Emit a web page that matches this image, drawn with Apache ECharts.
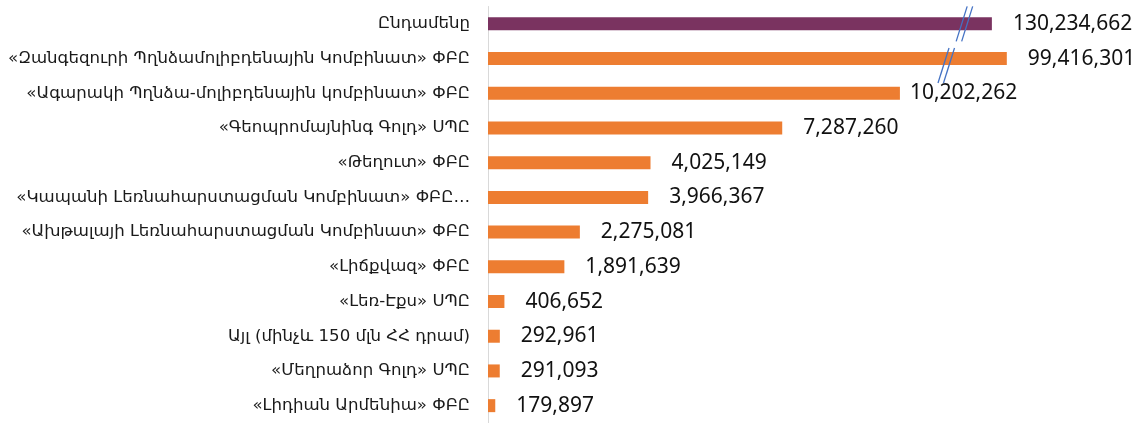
<!DOCTYPE html>
<html>
<head>
	<meta charset="utf-8">
	<title>chart</title>
	<script src="https://cdn.jsdelivr.net/npm/echarts@6/dist/echarts.min.js"></script>
	<style>
		html,body{margin:0;padding:0;background:#fff;}
		#main{width:1143px;height:423px;}
	</style>
</head>
<body>
	<div id="main"></div>
<script type="text/javascript">
	// categories, top to bottom
	var categories = [
		'Ընդամենը',
		'«Զանգեզուրի Պղնձամոլիբդենային Կոմբինատ» ՓԲԸ',
		'«Ագարակի Պղնձա-մոլիբդենային կոմբինատ» ՓԲԸ',
		'«Գեոպրոմայնինգ Գոլդ» ՍՊԸ',
		'«Թեղուտ» ՓԲԸ',
		'«Կապանի Լեռնահարստացման Կոմբինատ» ՓԲԸ…',
		'«Ախթալայի Լեռնահարստացման Կոմբինատ» ՓԲԸ',
		'«Լիճքվազ» ՓԲԸ',
		'«Լեռ-Էքս» ՍՊԸ',
		'Այլ (մինչև 150 մլն ՀՀ դրամ)',
		'«Մեղրաձոր Գոլդ» ՍՊԸ',
		'«Լիդիան Արմենիա» ՓԲԸ'
	];
	// real values (shown in labels)
	var values = [130234662, 99416301, 10202262, 7287260, 4025149, 3966367, 2275081, 1891639, 406652, 292961, 291093, 179897];
	// drawn bar lengths: the two largest bars are cut (broken axis)
	var barLength = [12480000, 12850000, 10202262, 7287260, 4025149, 3966367, 2275081, 1891639, 406652, 292961, 291093, 179897];
	// where the break marks sit (value, row index)
	var breaks = [[11800000, 0], [11350000, 1.2]];

	var purple = '#7a3360';
	var orange = '#ed7d31';

	var myChart = echarts.init(document.getElementById('main'));

	var seriesData = [];
	for(var i=0;i<barLength.length;i++){
		seriesData.push({
			value: barLength[i],
			itemStyle: {color: i == 0 ? purple : orange},
			label: {distance: i == 2 ? 10 : 21}
		});
	}

	var option = {
		animation: false,
		grid: {left: 488, right: 9, top: 6.5, bottom: -4.5},
		xAxis: {
			type: 'value',
			min: 0,
			max: 16000000,
			show: false
		},
		yAxis: {
			type: 'category',
			inverse: true,
			data: categories,
			axisLine: {show: true, lineStyle: {color: '#d9d9d9', width: 1}},
			axisTick: {show: false},
			axisLabel: {
				margin: 18,
				color: '#1a1a1a',
				fontSize: 16.6,
				fontFamily: '"DejaVu Sans", sans-serif'
			}
		},
		series: [{
			type: 'bar',
			barWidth: 13,
			data: seriesData,
			label: {
				show: true,
				position: 'right',
				color: '#111',
				fontSize: 21,
				fontFamily: '"Noto Sans", sans-serif',
				formatter: function(p){
					return values[p.dataIndex].toLocaleString('en-US');
				}
			}
		}]
	};
	myChart.setOption(option);

	// break marks: pairs of thin slanted blue lines
	function drawBreaks(){
		var els = [];
		for(var k=0;k<breaks.length;k++){
			var row = breaks[k][1];
			var r0 = Math.floor(row);
			var p0 = myChart.convertToPixel({gridIndex:0}, [breaks[k][0], r0]);
			var p1 = myChart.convertToPixel({gridIndex:0}, [breaks[k][0], r0 + 1]);
			var cx = p0[0];
			var cy = p0[1] + (p1[1] - p0[1]) * (row - r0);
			for(var j=0;j<2;j++){
				var off = j * 5.5 - 2.75;
				els.push({
					type: 'line',
					z: 100,
					shape: {x1: cx + off + 5.5, y1: cy - 17.5, x2: cx + off - 5.5, y2: cy + 17.5},
					style: {stroke: '#4472c4', lineWidth: 1.3}
				});
			}
		}
		myChart.setOption({graphic: els});
	}
	drawBreaks();
</script>
</body>
</html>
